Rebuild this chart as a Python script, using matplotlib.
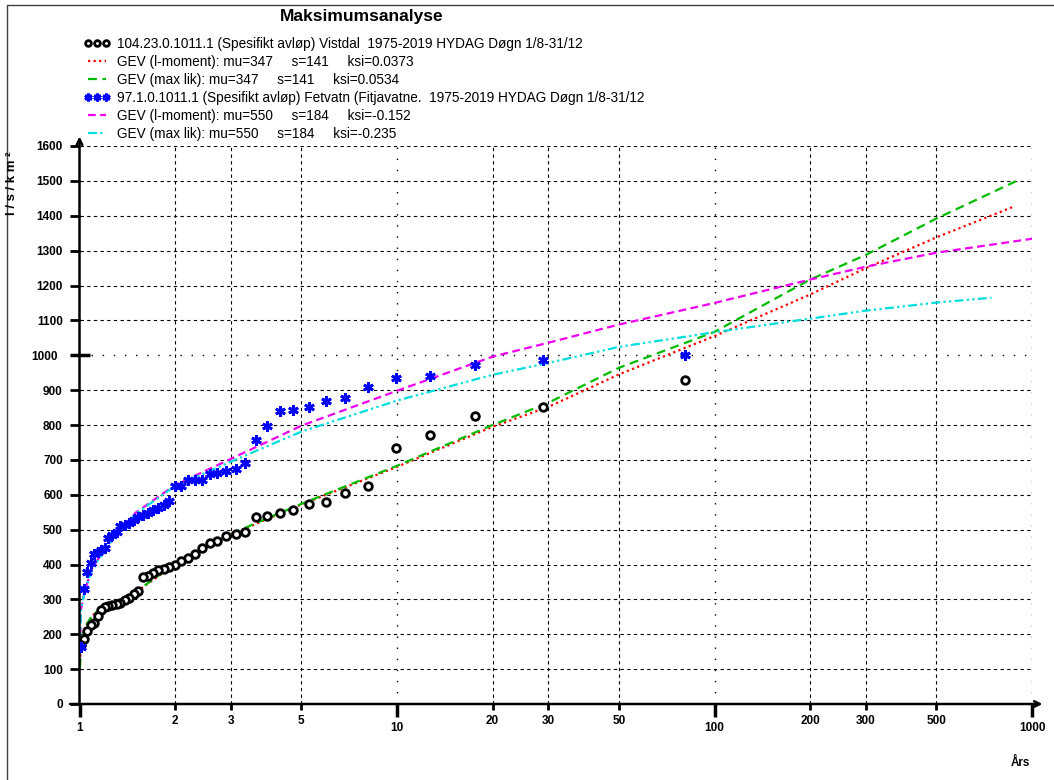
import matplotlib
matplotlib.use('Agg')
import matplotlib.pyplot as plt
from matplotlib.patches import Rectangle

plt.rcParams['font.family'] = ['Liberation Sans', 'DejaVu Sans']

# ---------------------------------------------------------------------------
# Data
# ---------------------------------------------------------------------------
# gjentaksintervall (år) for de observerte punktene, største verdi først
aar = [80.6, 28.9, 17.6, 12.7, 9.90, 8.12, 6.88, 5.97, 5.27, 4.72,
       4.27, 3.90, 3.59, 3.33, 3.10, 2.90, 2.72, 2.57, 2.43, 2.31,
       2.20, 2.09, 2.00, 1.92, 1.84, 1.77, 1.70, 1.64, 1.58, 1.53,
       1.48, 1.43, 1.39, 1.34, 1.31, 1.27, 1.23, 1.20, 1.17, 1.14,
       1.11, 1.085, 1.059, 1.035, 1.011]

# 104.23.0.1011.1 Vistdal (l/s/km2)
vistdal = [928, 853, 826, 771, 733, 626, 605, 579, 574, 555,
           547, 539, 537, 492, 488, 481, 466, 461, 447, 430,
           420, 410, 399, 392, 387, 383, 377, 366, 364, 324,
           314, 305, 298, 291, 288, 284, 281, 279, 270, 253,
           232, 226, 210, 186, 170]

# 97.1.0.1011.1 Fetvatn (l/s/km2)
fetvatn = [1001, 987, 971, 941, 936, 909, 878, 869, 851, 844,
           839, 798, 758, 691, 674, 669, 662, 659, 643, 643,
           643, 624, 624, 581, 571, 562, 557, 548, 542, 537,
           528, 518, 514, 509, 494, 485, 475, 447, 443, 437,
           430, 404, 378, 330, 164]

# tilpassede GEV-kurver
t_vist_lm = [1.003, 1.01, 1.02, 1.05, 1.1, 1.2, 1.3, 1.5, 2, 3, 5, 10,
             20, 30, 50, 100, 200, 300, 500, 875]
vist_lm = [120, 160, 190, 227, 254, 283, 292, 320, 400, 486, 572, 680,
           795, 852, 945, 1055, 1174, 1250, 1338, 1426]

t_vist_ml = [1.003, 1.01, 1.02, 1.05, 1.1, 1.2, 1.3, 1.5, 2, 3, 5, 10,
             20, 30, 50, 100, 200, 300, 500, 900]
vist_ml = [105, 150, 190, 227, 255, 284, 293, 321, 402, 488, 574, 683,
           800, 864, 964, 1067, 1217, 1288, 1392, 1501]

t_fet_lm = [1.003, 1.01, 1.04, 1.1, 1.25, 1.5, 2, 3, 5, 10, 20, 30,
            50, 100, 200, 300, 500, 1000]
fet_lm = [164, 270, 327, 393, 465, 548, 628, 703, 798, 898, 996, 1036,
          1088, 1150, 1217, 1254, 1294, 1334]

t_fet_ml = [1.003, 1.01, 1.04, 1.1, 1.25, 1.5, 2, 3, 5, 10, 20, 30,
            50, 100, 200, 300, 500, 745]
fet_ml = [164, 268, 325, 390, 462, 545, 625, 695, 781, 870, 944, 978,
          1024, 1066, 1105, 1128, 1151, 1165]

x_hoved = [1, 10, 100, 1000]
x_minor = [2, 3, 5, 20, 30, 50, 200, 300, 500]
y_verdier = list(range(0, 1700, 100))

lab_vist = '104.23.0.1011.1 (Spesifikt avløp) Vistdal  1975-2019 HYDAG Døgn 1/8-31/12'
lab_fet = '97.1.0.1011.1 (Spesifikt avløp) Fetvatn (Fitjavatne.  1975-2019 HYDAG Døgn 1/8-31/12'

# ---------------------------------------------------------------------------
# Figur
# ---------------------------------------------------------------------------
W, H = 1054, 780
fig = plt.figure(figsize=(W / 100, H / 100), dpi=100)
ax = fig.add_axes([79.5 / W, 1 - 704 / H, (1032 - 79.5) / W, (704 - 146) / H])
ax.set_xscale('log')
ax.set_xlim(1, 1000)
ax.set_ylim(0, 1600)
for s in ax.spines.values():
    s.set_visible(False)

# rutenett
for v in y_verdier[1:]:
    if v == 1000:
        ax.axhline(v, color='black', lw=1.0, ls=(0, (1, 7)), zorder=1)
    else:
        ax.axhline(v, color='black', lw=0.8, ls=(0, (3, 3)), zorder=1)
for t in x_minor:
    ax.axvline(t, color='black', lw=0.8, ls=(0, (3, 3)), zorder=1)
for t in x_hoved[1:]:
    ax.axvline(t, color='black', lw=1.0, ls=(0, (1, 7)), zorder=1)

# kurver
ax.plot(t_vist_lm, vist_lm, color='red', lw=1.6, ls=(0, (1, 1.5)), zorder=3,
        label='GEV (l-moment): mu=347     s=141     ksi=0.0373')
ax.plot(t_vist_ml, vist_ml, color='#00bb00', lw=1.6, ls=(0, (4, 2.5)), zorder=3,
        label='GEV (max lik): mu=347     s=141     ksi=0.0534')
ax.plot(t_fet_lm, fet_lm, color='#ee00ee', lw=1.6, ls=(0, (3.5, 2)), zorder=3,
        label='GEV (l-moment): mu=550     s=184     ksi=-0.152')
ax.plot(t_fet_ml, fet_ml, color='#00dddd', lw=1.6, ls=(0, (4, 1.5, 1, 1.5, 1, 1.5)), zorder=3,
        label='GEV (max lik): mu=550     s=184     ksi=-0.235')

# observasjoner
p1, = ax.plot(aar, vistdal, ls='none', marker='o', ms=5.5, mfc='white',
              mec='black', mew=2, zorder=4, label=lab_vist)
p2, = ax.plot(aar, fetvatn, ls='none', marker=(6, 2, 0), ms=7.5,
              color='#0000ff', mew=2, zorder=4, label=lab_fet)

# akser med piler
pil = dict(arrowstyle='->', lw=1.8, color='black', shrinkA=0, shrinkB=0)
ax.annotate('', xy=(1.011, 0), xytext=(-0.01, 0), xycoords='axes fraction',
            arrowprops=pil, annotation_clip=False)
ax.annotate('', xy=(0, 1.017), xytext=(0, 0), xycoords='axes fraction',
            arrowprops=pil, annotation_clip=False)

# ticks
ax.set_xticks(x_hoved)
ax.set_xticklabels([str(t) for t in x_hoved])
ax.set_xticks(x_minor, minor=True)
ax.set_xticklabels([str(t) for t in x_minor], minor=True)
ax.tick_params(axis='x', which='major', direction='out', length=9, width=2.5,
               pad=4, labelsize=8.5)
ax.tick_params(axis='x', which='minor', direction='out', length=4, width=2,
               pad=4, labelsize=8.5)
ax.set_yticks([1000])
ax.set_yticklabels(['1000'])
y_minor = [v for v in y_verdier if v != 1000]
ax.set_yticks(y_minor, minor=True)
ax.set_yticklabels([str(v) for v in y_minor], minor=True)
ax.tick_params(axis='y', which='major', direction='inout', length=15, width=2.5,
               pad=8, labelsize=8.5)
ax.tick_params(axis='y', which='minor', direction='out', length=7, width=2,
               pad=5, labelsize=8.5)
for lab in ax.get_xticklabels(which='both') + ax.get_yticklabels(which='both'):
    lab.set_fontweight('bold')

# tekster
fig.text(362 / W, 1 - 16 / H, 'Maksimumsanalyse', ha='center', va='center',
         fontsize=12.5, fontweight='bold')
fig.text(12 / W, 1 - 183 / H, 'l / s / k m ²', rotation=90, ha='center',
         va='center', fontsize=9.5, fontweight='bold')
fig.text(1020 / W, 1 - 763 / H, 'Års', ha='center', va='center',
         fontsize=8.5, fontweight='bold')

# tegnforklaring
handles, labels = ax.get_legend_handles_labels()
rekkef = [4, 0, 1, 5, 2, 3]
fig.legend([handles[i] for i in rekkef], [labels[i] for i in rekkef],
           loc='upper left', bbox_to_anchor=(84 / W, 1 - 37 / H), frameon=False,
           fontsize=9.8, numpoints=3, handlelength=1.9, handletextpad=0.55,
           labelspacing=0.29, borderpad=0, borderaxespad=0, markerscale=0.75)

# ramme rundt figuren
fig.add_artist(Rectangle((7 / W, -0.02), 1.1, 1.02 - 5 / H, transform=fig.transFigure,
                         fill=False, lw=1, edgecolor='#404040'))

plt.savefig('out.png', dpi=100)
plt.close()
